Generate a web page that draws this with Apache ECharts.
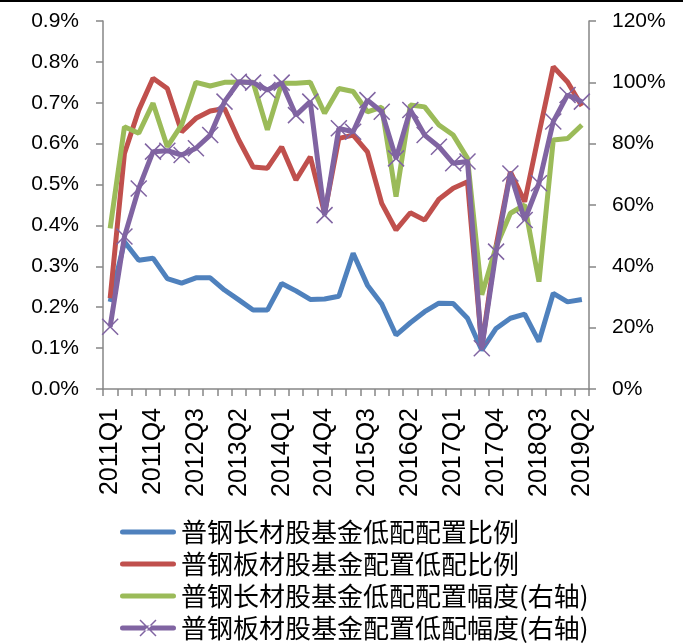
<!DOCTYPE html>
<html>
<head>
<meta charset="utf-8">
<script src="https://cdn.jsdelivr.net/npm/echarts@6/dist/echarts.min.js"></script>
<style>
  html, body { margin: 0; padding: 0; background: #fff; }
  #chart { width: 697px; height: 644px; }
</style>
</head>
<body>
<div id="chart"></div>
<script>
// 季度 2011Q1 - 2019Q2
const quarters = [
  '2011Q1','2011Q2','2011Q3','2011Q4','2012Q1','2012Q2','2012Q3','2012Q4',
  '2013Q1','2013Q2','2013Q3','2013Q4','2014Q1','2014Q2','2014Q3','2014Q4',
  '2015Q1','2015Q2','2015Q3','2015Q4','2016Q1','2016Q2','2016Q3','2016Q4',
  '2017Q1','2017Q2','2017Q3','2017Q4','2018Q1','2018Q2','2018Q3','2018Q4',
  '2019Q1','2019Q2'
]

// 左轴 (%)
const longRatio = [
  0.213, 0.36, 0.315, 0.32, 0.27, 0.259, 0.272, 0.272,
  0.242, 0.218, 0.193, 0.193, 0.258, 0.24, 0.219, 0.22,
  0.227, 0.332, 0.254, 0.208, 0.132, 0.162, 0.189, 0.21,
  0.209, 0.173, 0.095, 0.148, 0.173, 0.183, 0.116, 0.234,
  0.213, 0.219
]
const plateRatio = [
  0.222, 0.576, 0.682, 0.76, 0.735, 0.629, 0.662, 0.68,
  0.686, 0.609, 0.543, 0.54, 0.592, 0.511, 0.568, 0.43,
  0.613, 0.621, 0.58, 0.454, 0.389, 0.431, 0.413, 0.464,
  0.491, 0.507, 0.103, 0.35, 0.531, 0.458, 0.625, 0.788,
  0.751, 0.692
]

// 右轴 (%)
const longRange = [
  52.4, 85.5, 83.4, 93.2, 79, 86.1, 100, 98.8,
  100, 100, 100, 84.5, 99.7, 99.7, 100, 89.9,
  98, 97, 90.4, 91.9, 62.7, 92.6, 92, 86.1,
  82.8, 75.2, 30.7, 46.4, 57.3, 60, 35, 81.2,
  81.7, 86.1
]
const plateRange = [
  20.3, 49.7, 65.4, 77.4, 77.7, 76.3, 78.5, 82.8,
  93.7, 100.2, 99.9, 97.5, 99.9, 89.3, 93.7, 56.7,
  85, 83.9, 94.2, 90.4, 75.2, 91, 82.8, 79,
  73.6, 74.2, 13.3, 44.8, 70.3, 55.1, 67.1, 87.2,
  95.9, 93.7
]

const names = [
  '普钢长材股基金低配配置比例',
  '普钢板材股基金配置低配比例',
  '普钢长材股基金低配配置幅度(右轴)',
  '普钢板材股基金配置低配幅度(右轴)'
]
const colors = ['#4F81BD', '#C0504D', '#9BBB59', '#8064A2']

// legend icons, all in a 56x18 box
const boxCorners = 'M0,0L0.01,0L0,0.01ZM56,18L55.99,18L56,17.99Z'
const barIcon = 'path://' + boxCorners + 'M2.5,6.5L53.5,6.5A2.5,2.5 0 0 1 53.5,11.5L2.5,11.5A2.5,2.5 0 0 1 2.5,6.5Z'
const crossIcon = barIcon +
  'M19.47,1.53L20.53,0.47L36.53,16.47L35.47,17.53Z' +
  'M36.53,1.53L35.47,0.47L19.47,16.47L20.53,17.53Z'

const chart = echarts.init(document.getElementById('chart'))

const axisFont = { fontFamily: 'Liberation Sans, Arial, sans-serif', fontSize: 21, color: '#000' }
const axisLine = { show: true, lineStyle: { color: '#868686', width: 1.5 } }
const axisTick = { show: true, length: 7, lineStyle: { color: '#868686', width: 1.5 } }

const lineSeries = (name, data, color, yAxisIndex) => ({
  name,
  type: 'line',
  yAxisIndex,
  data,
  symbol: 'none',
  lineStyle: { color, width: 5 },
  itemStyle: { color },
  emphasis: { disabled: true }
})

const option = {
  animation: false,
  color: colors,
  grid: { left: 103, right: 108, top: 21, bottom: 255 },
  legend: {
    orient: 'vertical',
    left: 120,
    top: 519,
    padding: 0,
    height: 130,
    itemWidth: 56,
    itemHeight: 18,
    itemGap: 6,
    textStyle: {
      fontFamily: 'Noto Sans CJK SC',
      fontSize: 26,
      lineHeight: 26,
      color: '#000'
    },
    data: [
      { name: names[0], icon: barIcon, itemStyle: { color: colors[0], borderWidth: 0 } },
      { name: names[1], icon: barIcon, itemStyle: { color: colors[1], borderWidth: 0 } },
      { name: names[2], icon: barIcon, itemStyle: { color: colors[2], borderWidth: 0 } },
      { name: names[3], icon: crossIcon, itemStyle: { color: colors[3], borderWidth: 0 } }
    ]
  },
  xAxis: {
    type: 'category',
    data: quarters,
    boundaryGap: true,
    axisLine,
    axisTick: { ...axisTick, interval: 0 },
    axisLabel: { ...axisFont, fontSize: 25, rotate: 90, interval: 2, margin: 19 },
    splitLine: { show: false }
  },
  yAxis: [
    {
      type: 'value',
      min: 0,
      max: 0.9,
      interval: 0.1,
      axisLine,
      axisTick,
      axisLabel: { ...axisFont, margin: 24, formatter: v => v.toFixed(1) + '%' },
      splitLine: { show: false }
    },
    {
      type: 'value',
      min: 0,
      max: 120,
      interval: 20,
      axisLine,
      axisTick,
      axisLabel: { ...axisFont, margin: 23, formatter: v => v + '%' },
      splitLine: { show: false }
    }
  ],
  graphic: [
    { type: 'line', shape: { x1: 0, y1: 1, x2: 683, y2: 1 }, style: { stroke: '#000', lineWidth: 2 } }
  ],
  series: [
    lineSeries(names[0], longRatio, colors[0], 0),
    lineSeries(names[1], plateRatio, colors[1], 0),
    lineSeries(names[2], longRange, colors[2], 1),
    {
      ...lineSeries(names[3], plateRange, colors[3], 1),
      symbol: 'path://M0,0L16,16M16,0L0,16',
      symbolSize: 16,
      showSymbol: true,
      showAllSymbol: true,
      itemStyle: { color: 'none', borderColor: colors[3], borderWidth: 1.5 }
    }
  ]
}

chart.setOption(option)
window.addEventListener('resize', () => chart.resize())
</script>
</body>
</html>
